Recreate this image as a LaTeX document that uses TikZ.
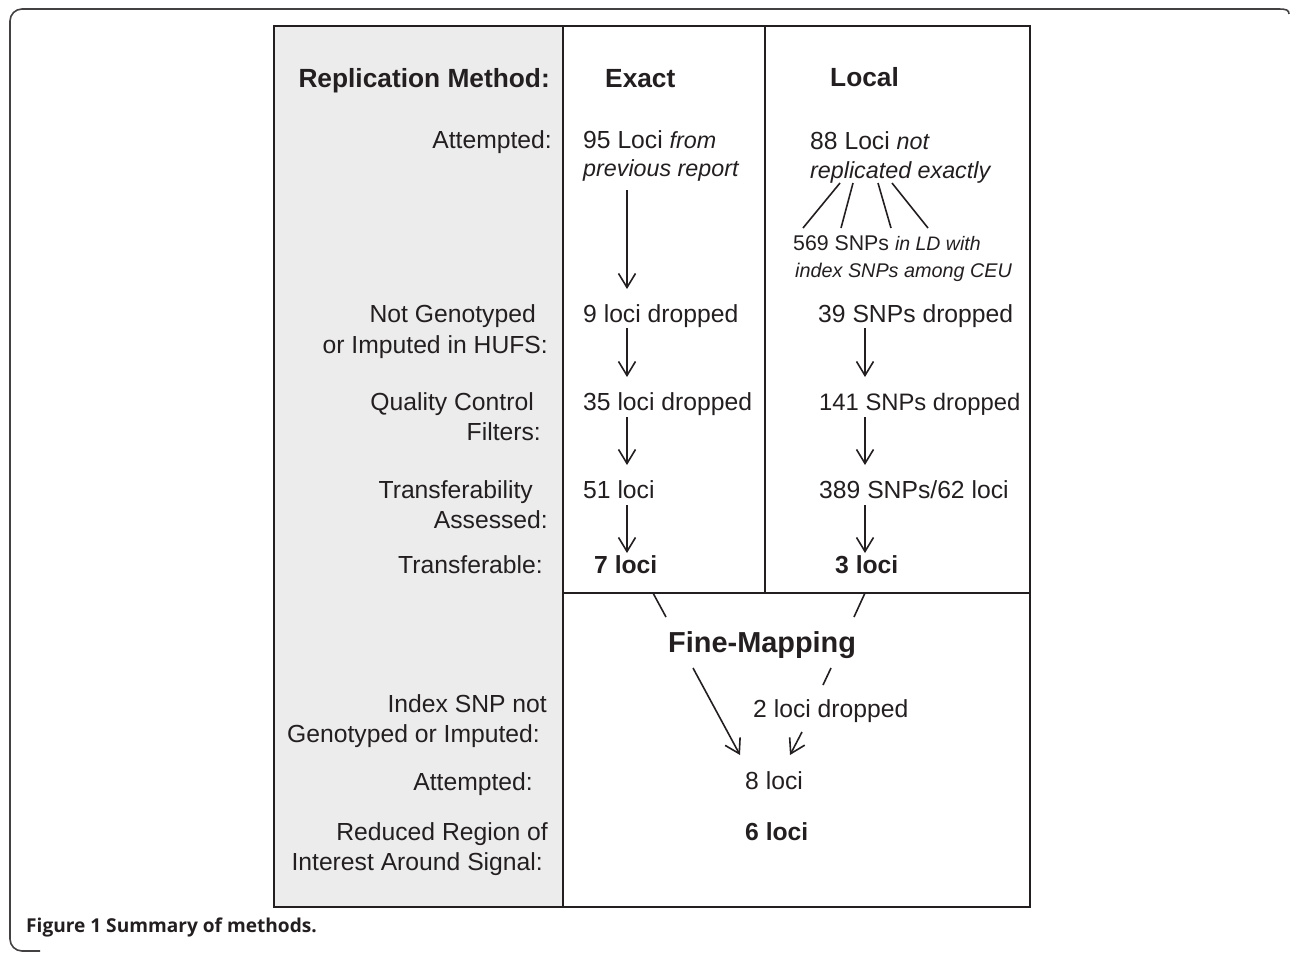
\documentclass[tikz,border=0pt]{standalone}
\usepackage{fontspec}
\setmainfont{Liberation Sans}
\newfontfamily\capfont{Open Sans}
\usetikzlibrary{arrows.meta}
\definecolor{ink}{HTML}{231F20}
\definecolor{panel}{HTML}{ECECEC}
\begin{document}
\begin{tikzpicture}[x=1pt,y=-1pt,
  txt/.style={inner sep=0pt, text=ink, font=\fontsize{24.7}{29}\selectfont},
  lab/.style={txt, anchor=base east},
  val/.style={txt, anchor=base west},
  hdr/.style={inner sep=0pt, text=ink, font=\fontsize{26.3}{30}\selectfont\bfseries},
  bold/.style={val, font=\fontsize{24.7}{29}\selectfont\bfseries},
  ital/.style={val, font=\fontsize{23.3}{28}\selectfont\itshape},
  boxline/.style={draw=ink, line width=2.6pt},
  ln/.style={draw=ink, line width=1.6pt},
  arr/.style={ln, -{Straight Barb[length=14pt,width=17pt]}}]
\useasboundingbox (0,0) rectangle (1290,953);
% outer figure frame
\draw[ink!85, line width=1.6pt, rounded corners=12pt]
  (40,951) -- (10,951) -- (10,9) -- (1280,9);
\draw[ink!85, line width=1.6pt] (1279,9) .. controls (1286,9) and (1289,10) .. (1289,14);
% table
\fill[panel] (274,26) rectangle (563,907);
\draw[boxline] (274,26) rectangle (1030,907);
\draw[boxline] (563,26) -- (563,907);
\draw[boxline] (765,26) -- (765,593);
\draw[boxline] (563,593) -- (1030,593);
% left labels
\node[hdr, anchor=base east] (hRM) at (550,87) {Replication Method:};
\node[lab] (lAtt) at (552,148) {Attempted:};
\node[lab] (lNG1) at (536,322) {Not Genotyped};
\node[lab] (lNG2) at (548,353) {or Imputed in HUFS:};
\node[lab] (lQC1) at (534,410) {Quality Control};
\node[lab] (lQC2) at (541,440) {Filters:};
\node[lab] (lTA1) at (533,498) {Transferability};
\node[lab] (lTA2) at (548,528) {Assessed:};
\node[lab] (lTr) at (543,573) {Transferable:};
\node[lab] (lIS1) at (547,712) {Index SNP not};
\node[lab] (lIS2) at (540,742) {Genotyped or Imputed:};
\node[lab] (lAt2) at (533,790) {Attempted:};
\node[lab] (lRR1) at (548,840) {Reduced Region of};
\node[lab] (lRR2) at (543,870) {Interest Around Signal:};
% exact column
\node[hdr, anchor=base west] (hEx) at (605,87) {Exact};
\node[val] (e0) at (583,148) {95 Loci {\fontsize{23.3}{28}\selectfont\itshape from}};
\node[ital] (e0b) at (583,176) {previous report};
\node[val] (e1) at (583,322) {9 loci dropped};
\node[val] (e2) at (583,410) {35 loci dropped};
\node[val] (e3) at (583,498) {51 loci};
\node[bold] (e4) at (594,573) {7 loci};
% local column
\node[hdr, anchor=base west] (hLo) at (830,86) {Local};
\node[val] (l0) at (810,149) {88 Loci {\fontsize{23.3}{28}\selectfont\itshape not}};
\node[ital] (l0b) at (810,178) {replicated exactly};
\node[val, font=\fontsize{21.3}{25}\selectfont] (l0c) at (793,250) {569 SNPs {\fontsize{19.5}{24}\selectfont\itshape in LD with}};
\node[val, font=\fontsize{19.8}{24}\selectfont\itshape] (l0d) at (795,277) {index SNPs among CEU};
\node[val] (l1) at (818,322) {39 SNPs dropped};
\node[val, font=\fontsize{23.8}{29}\selectfont] (l2) at (819,410) {141 SNPs dropped};
\node[val] (l3) at (819,498) {389 SNPs/62 loci};
\node[bold] (l4) at (835,573) {3 loci};
% fine mapping
\node[val, font=\fontsize{28.9}{33}\selectfont\bfseries] (fm) at (668,652) {Fine-Mapping};
\node[val] (f1) at (753,717) {2 loci dropped};
\node[val] (f2) at (745,789) {8 loci};
\node[bold] (f3) at (745,840) {6 loci};
% connector end points
\coordinate (a0s) at (627,190); \coordinate (a0e) at (627,289);
\coordinate (a1s) at (627,328); \coordinate (a1e) at (627,377);
\coordinate (a2s) at (627,417); \coordinate (a2e) at (627,465);
\coordinate (a3s) at (627,505); \coordinate (a3e) at (627,553);
\coordinate (b1s) at (865,328); \coordinate (b1e) at (865,377);
\coordinate (b2s) at (865,417); \coordinate (b2e) at (865,465);
\coordinate (b3s) at (865,505); \coordinate (b3e) at (865,553);
\coordinate (k1s) at (840,183); \coordinate (k1e) at (803,228);
\coordinate (k2s) at (853,183); \coordinate (k2e) at (841,228);
\coordinate (k3s) at (878,183); \coordinate (k3e) at (891,228);
\coordinate (k4s) at (892,183); \coordinate (k4e) at (928,228);
\coordinate (m1s) at (653,593); \coordinate (m1e) at (666,617);
\coordinate (m2s) at (865,593); \coordinate (m2e) at (854,617);
\coordinate (n1s) at (693,668); \coordinate (n1e) at (740,755);
\coordinate (n2s) at (831,668); \coordinate (n2e) at (823,685);
\coordinate (n3s) at (802,732); \coordinate (n3e) at (790,755);
% arrows
\draw[arr] (a0s) -- (a0e);
\draw[arr] (a1s) -- (a1e);
\draw[arr] (a2s) -- (a2e);
\draw[arr] (a3s) -- (a3e);
\draw[arr] (b1s) -- (b1e);
\draw[arr] (b2s) -- (b2e);
\draw[arr] (b3s) -- (b3e);
\draw[ln] (k1s) -- (k1e);
\draw[ln] (k2s) -- (k2e);
\draw[ln] (k3s) -- (k3e);
\draw[ln] (k4s) -- (k4e);
\draw[ln] (m1s) -- (m1e);
\draw[ln] (m2s) -- (m2e);
\draw[arr] (n1s) -- (n1e);
\draw[ln] (n2s) -- (n2e);
\draw[arr] (n3s) -- (n3e);
% caption
\node[anchor=base west, inner sep=0pt, text=ink, font=\capfont\bfseries\fontsize{19.1}{22}\selectfont] (cap) at (26,932) {Figure 1 Summary of methods.};
\end{tikzpicture}
\end{document}
